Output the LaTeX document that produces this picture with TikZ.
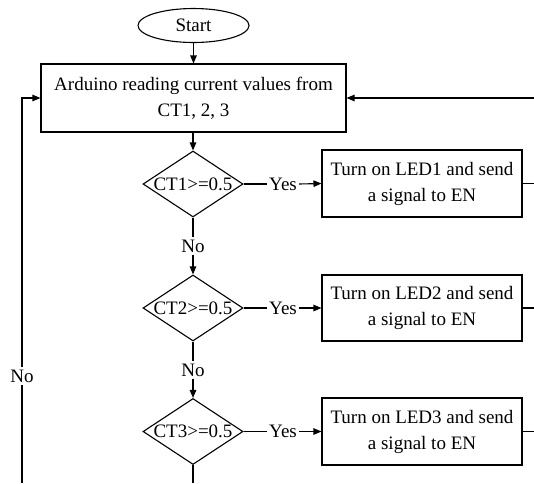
\documentclass[tikz,border=0pt]{standalone}
\usepackage{fontspec}
\setmainfont{Liberation Serif}
\usetikzlibrary{shapes.geometric,arrows.meta}
\tikzset{
  every node/.style={font=\fontsize{19}{26}\selectfont},
  line/.style={draw=black,line width=1.1pt},
  arr/.style={line,-{Triangle[length=8pt,width=6.5pt]}},
  procbox/.style={draw=black,line width=1.1pt,rectangle,align=center,inner sep=0pt},
  decis/.style={draw=black,line width=1.1pt,diamond,inner sep=0pt,minimum width=100pt,minimum height=66pt},
  term/.style={draw=black,line width=1.1pt,ellipse,inner sep=0pt,minimum width=111pt,minimum height=34pt},
  lbl/.style={inner sep=2pt}
}
\begin{document}
\begin{tikzpicture}[x=1pt,y=-1pt]
\useasboundingbox (0,0) rectangle (534,483);
\node[term] (start) at (193.5,25.5) {Start};
\node[procbox,minimum width=305pt,minimum height=68pt] (main) at (193.5,98) {Arduino reading current values from\\CT1, 2, 3};
\node[decis] (d1) at (193,184) {\makebox[50pt]{CT1>=0.5}};
\node[decis] (d2) at (193,308) {\makebox[50pt]{CT2>=0.5}};
\node[decis] (d3) at (193,431.5) {\makebox[50pt]{CT3>=0.5}};
\node[procbox,minimum width=200pt,minimum height=67pt] (l1) at (422,183.5) {Turn on LED1 and send\\a signal to EN};
\node[procbox,minimum width=200pt,minimum height=66pt] (l2) at (422,308) {Turn on LED2 and send\\a signal to EN};
\node[procbox,minimum width=200pt,minimum height=67pt] (l3) at (422,431.5) {Turn on LED3 and send\\a signal to EN};
\node[lbl] (y1) at (283,184) {Yes};
\node[lbl] (y2) at (283,308) {Yes};
\node[lbl] (y3) at (283,431.5) {Yes};
\node[lbl] (n1) at (193,246) {No};
\node[lbl] (n2) at (193,370) {No};
\node[lbl] (nl) at (22,376) {No};
\coordinate (lb) at (22,483);
\coordinate (db) at (193,483);
\coordinate (rm) at (534,98);
\coordinate (r1) at (534,183.5);
\coordinate (r2) at (534,308);
\coordinate (r3) at (534,431.5);
\draw[arr] (start.south) -- (main.north);
\draw[arr] (main.south -| d1.north) -- (d1.north);
\draw[line] (d1.east) -- (y1.west);
\draw[arr] (y1.east) -- (l1.west);
\draw[line] (d2.east) -- (y2.west);
\draw[arr] (y2.east) -- (l2.west);
\draw[line] (d3.east) -- (y3.west);
\draw[arr] (y3.east) -- (l3.west);
\draw[line] (d1.south) -- (n1.north);
\draw[arr] (n1.south) -- (d2.north);
\draw[line] (d2.south) -- (n2.north);
\draw[arr] (n2.south) -- (d3.north);
\draw[line] (d3.south) -- (db);
\draw[line] (lb) -- (nl.south);
\draw[arr] (nl.north) |- (main.west);
\draw[arr] (rm) -- (main.east);
\draw[line] (l1.east) -- (r1);
\draw[line] (l2.east) -- (r2);
\draw[line] (l3.east) -- (r3);
\end{tikzpicture}
\end{document}
